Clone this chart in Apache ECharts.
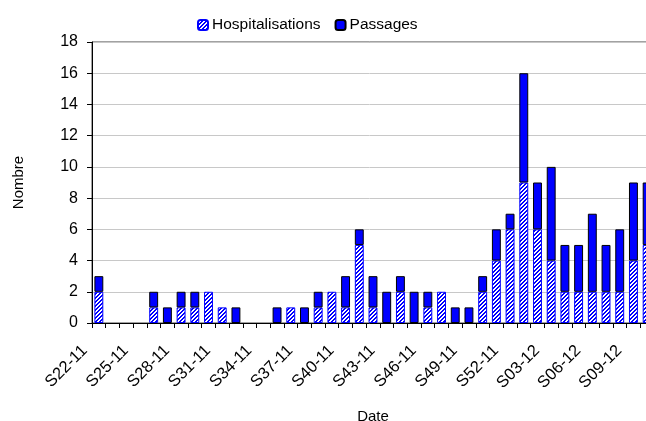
<!DOCTYPE html>
<html><head><meta charset="utf-8">
<script src="https://cdn.jsdelivr.net/npm/echarts@6/dist/echarts.min.js"></script>
<style>html,body{margin:0;padding:0;background:#fff}#c{width:646px;height:421px}</style>
</head><body><div id="c"></div>
<script>
const categories = ['S22-11','S23-11','S24-11','S25-11','S26-11','S27-11','S28-11','S29-11','S30-11','S31-11','S32-11','S33-11','S34-11','S35-11','S36-11','S37-11','S38-11','S39-11','S40-11','S41-11','S42-11','S43-11','S44-11','S45-11','S46-11','S47-11','S48-11','S49-11','S50-11','S51-11','S52-11','S01-12','S02-12','S03-12','S04-12','S05-12','S06-12','S07-12','S08-12','S09-12','S10-12'];
const hospitalisations = [2,0,0,0,1,0,1,1,2,1,0,0,0,0,1,0,1,2,1,5,1,0,2,0,1,2,0,0,2,4,6,9,6,4,2,2,2,2,2,4,5];
const passages = [1,0,0,0,1,1,1,1,0,0,1,0,0,1,0,1,1,0,2,1,2,2,1,2,1,0,1,1,1,2,1,7,3,6,3,3,5,3,4,5,4];
const yTicks = [0,2,4,6,8,10,12,14,16,18];

function hatch(){
  const c = document.createElement('canvas');
  c.width = 4; c.height = 4;
  const g = c.getContext('2d');
  for (let y = 0; y < 4; y++) for (let x = 0; x < 4; x++) {
    const k = (x + y) % 4;
    g.fillStyle = (k === 0 || k === 1) ? '#0000ff' : '#ffffff';
    g.fillRect(x, y, 1, 1);
  }
  return c;
}
const pat = {image: hatch(), repeat: 'repeat'};
const nz = a => a.map(v => v === 0 ? '-' : v);
const font = '"Liberation Sans", Arial, sans-serif';

const chart = echarts.init(document.getElementById('c'), null, {renderer:'canvas'});
chart.setOption({
  animation: false,
  textStyle: {fontFamily: font, color: '#000'},
  legend: {
    top: 12, left: 192, itemWidth: 10, itemHeight: 10, itemGap: 14,
    textStyle: {fontFamily: font, fontSize: 15.5, color: '#000', padding: [0,0,0,-1]},
    data: ['Hospitalisations','Passages']
  },
  grid: {left: 92, top: 42, bottom: 98, right: -8, outerBoundsMode: 'none', containLabel: false,
         show: true, borderColor: '#444', borderWidth: 1},
  xAxis: {
    type: 'category', data: categories,
    name: 'Date', nameLocation: 'middle', nameGap: 86,
    nameTextStyle: {fontFamily: font, fontSize: 15, color: '#000'},
    axisLine: {lineStyle: {color: '#000', width: 1}},
    axisTick: {show: true, interval: 0, length: 5, lineStyle: {color: '#000'}},
    axisLabel: {interval: 2, rotate: 45, fontSize: 16.5, color: '#000', fontFamily: font, margin: 11,
                padding: [0, 20, 0, 0]}
  },
  yAxis: {
    type: 'value', min: 0, max: 18, interval: 2,
    name: 'Nombre', nameLocation: 'middle', nameGap: 66,
    nameTextStyle: {fontFamily: font, fontSize: 15, color: '#000'},
    axisLine: {show: true, lineStyle: {color: '#000', width: 1}},
    axisTick: {show: true, length: 5, lineStyle: {color: '#000'}},
    axisLabel: {fontSize: 16, color: '#000', fontFamily: font, margin: 14,
      formatter: v => yTicks.includes(v) ? String(v) : ''},
    splitLine: {lineStyle: {color: '#c8c8c8', width: 1}}
  },
  series: [
    {name: 'Hospitalisations', type: 'bar', stack: 'a', data: nz(hospitalisations), barWidth: '65%',
     itemStyle: {color: pat, borderColor: '#0000ff', borderWidth: 1}},
    {name: 'Passages', type: 'bar', stack: 'a', data: nz(passages), barWidth: '65%',
     itemStyle: {color: '#0000ff', borderColor: '#000', borderWidth: 1}}
  ]
});
</script></body></html>
